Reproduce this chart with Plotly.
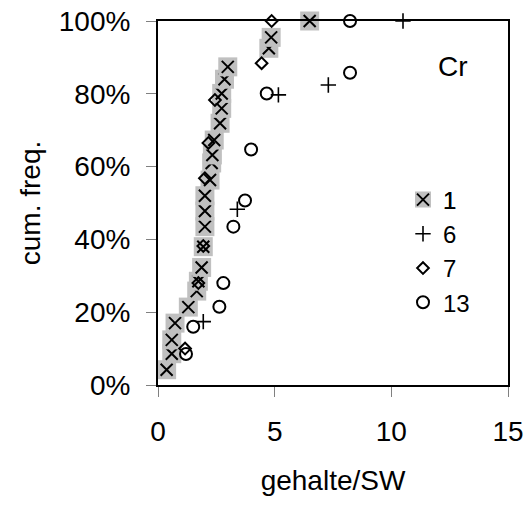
import plotly.graph_objects as go

# ---- data ----
s1_x = [0.37, 0.59, 0.59, 0.73, 1.30, 1.66, 1.73, 1.87, 1.94, 2.01, 2.01, 2.01,
        2.23, 2.30, 2.33, 2.41, 2.66, 2.73, 2.73, 2.85, 2.99, 4.75, 4.85, 6.50]
s1_y = [4.2, 8.6, 12.4, 17.0, 21.4, 25.8, 28.5, 32.3, 38.0, 43.5, 47.8, 52.0,
        56.3, 61.0, 63.2, 67.3, 71.9, 76.0, 80.1, 84.0, 87.4, 92.5, 95.5, 100.0]

s6_x = [1.94, 3.40, 5.16, 7.30, 10.50]
s6_y = [17.4, 48.3, 79.7, 82.4, 100.0]

s7_x = [1.16, 1.73, 1.94, 2.01, 2.16, 2.44, 4.44, 4.87]
s7_y = [10.0, 28.0, 38.2, 56.8, 66.5, 78.3, 88.4, 100.0]

s13_x = [1.20, 1.51, 2.63, 2.80, 3.23, 3.73, 3.99, 4.66, 8.23, 8.23]
s13_y = [8.5, 16.0, 21.5, 28.0, 43.5, 50.7, 64.7, 80.1, 85.8, 100.0]

series_names = ["1", "6", "7", "13"]
x_ticks = [0, 5, 10, 15]
y_ticks = [0, 20, 40, 60, 80, 100]

FONT = "Liberation Sans, Arial, sans-serif"
FS = 28

fig = go.Figure()

# series 1: gray square with black x, drawn point by point so later markers overlap earlier ones
for i, (xv, yv) in enumerate(zip(s1_x, s1_y)):
    fig.add_trace(go.Scatter(
        x=[xv], y=[yv], mode="markers", name=series_names[0],
        marker=dict(symbol="square", size=19, color="#c0c0c0", line=dict(width=0)),
        showlegend=(i == 0), legend="legend", cliponaxis=False))
    fig.add_trace(go.Scatter(
        x=[xv], y=[yv], mode="markers", name=series_names[0],
        marker=dict(symbol="x-thin", size=12, color="black", line=dict(width=2, color="black")),
        showlegend=(i == 0), legend="legend2", cliponaxis=False))

fig.add_trace(go.Scatter(
    x=s6_x, y=s6_y, mode="markers", name=series_names[1], legend="legend",
    marker=dict(symbol="cross-thin", size=11, color="black", line=dict(width=1.6, color="black")),
    cliponaxis=False))
fig.add_trace(go.Scatter(
    x=s7_x, y=s7_y, mode="markers", name=series_names[2], legend="legend",
    marker=dict(symbol="diamond-open", size=9, color="black", line=dict(width=2, color="black")),
    cliponaxis=False))
fig.add_trace(go.Scatter(
    x=s13_x, y=s13_y, mode="markers", name=series_names[3], legend="legend",
    marker=dict(symbol="circle-open", size=12, color="black", line=dict(width=2, color="black")),
    cliponaxis=False))

axis_common = dict(
    showgrid=False, zeroline=False, showline=True, linecolor="black", linewidth=2,
    mirror=True, ticks="outside", ticklen=10, tickwidth=1, tickcolor="#808080",
    tickfont=dict(family=FONT, size=FS, color="black"), automargin=False,
)

legend_common = dict(
    x=0.70, y=0.57, xanchor="left", yanchor="top",
    bgcolor="rgba(0,0,0,0)", borderwidth=0,
    font=dict(family=FONT, size=24, color="black"),
    itemsizing="trace", tracegroupgap=0,
)

fig.update_layout(
    width=528, height=507,
    margin=dict(l=158, r=20, t=21, b=122, autoexpand=False),
    paper_bgcolor="white", plot_bgcolor="white",
    font=dict(family=FONT, size=FS, color="black"),
    xaxis=dict(range=[0, 15], tickvals=x_ticks, ticktext=[str(v) for v in x_ticks],
               title=dict(text="gehalte/SW", font=dict(family=FONT, size=FS), standoff=25),
               ticklabelstandoff=10, **axis_common),
    yaxis=dict(range=[0, 100], tickvals=y_ticks, ticktext=[f"{v}%" for v in y_ticks],
               title=dict(text="cum. freq.", font=dict(family=FONT, size=FS), standoff=10),
               ticklabelstandoff=10, **axis_common),
    legend=legend_common,
    legend2=legend_common,
    annotations=[dict(text="Cr", x=0.843, y=0.876, xref="paper", yref="paper",
                      xanchor="center", yanchor="middle",
                      showarrow=False, font=dict(family=FONT, size=FS, color="black"))],
)

fig.write_html("out.html")
